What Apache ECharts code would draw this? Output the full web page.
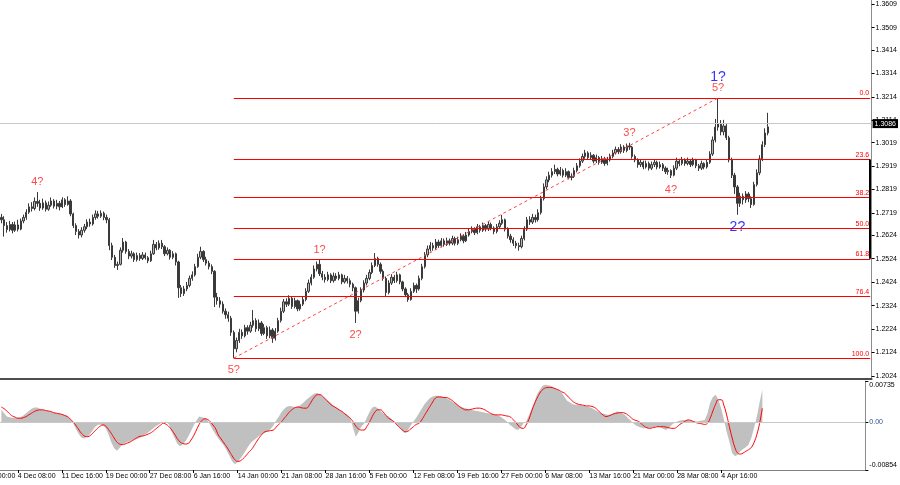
<!DOCTYPE html>
<html>
<head>
<meta charset="utf-8">
<script src="https://cdn.jsdelivr.net/npm/echarts@6/dist/echarts.min.js"></script>
<style>
html,body{margin:0;padding:0;background:#fff;}
#chart{width:900px;height:485px;}
</style>
</head>
<body>
<div id="chart"></div>
<script>
// ---------------- DATA ----------------
// time-axis labels (one every 16 candles; each candle = 8 hours). The first one belongs to a slot scrolled off to the left.
const xTickLabels = ["27 Nov 00:00","4 Dec 08:00","11 Dec 16:00","19 Dec 00:00","27 Dec 08:00","6 Jan 16:00",
  "14 Jan 00:00","21 Jan 08:00","28 Jan 16:00","5 Feb 00:00","12 Feb 08:00","19 Feb 16:00","27 Feb 00:00",
  "6 Mar 08:00","13 Mar 16:00","21 Mar 00:00","28 Mar 08:00","4 Apr 16:00"];

// price-axis tick labels
const priceTicks = [1.2024,1.2124,1.2224,1.2324,1.2424,1.2524,1.2624,1.2719,1.2819,1.2919,1.3019,1.3114,1.3214,1.3314,1.3414,1.3509,1.3609];

// MACD axis tick labels
const macdTickValues = [0.00735, 0, -0.00854];
const macdTickLabels = ["0.00735", "0.00", "-0.00854"];

// Fibonacci retracement levels (percent) and their texts
const fibRatios = [0, 23.6, 38.2, 50.0, 61.8, 76.4, 100.0];
const fibLabels = ["0.0","23.6","38.2","50.0","61.8","76.4","100.0"];
const fibLowCandle = 84;
const fibHighCandle = 259;

const currentPrice = 1.3086;

// candles: [open, high, low, close]
const ohlc = [
[1.2700,1.2715,1.2675,1.2690],[1.2690,1.2705,1.2618,1.2665],[1.2665,1.2680,1.2635,1.2648],[1.2648,1.2685,1.2640,1.2670],[1.2670,1.2680,1.2632,1.2645],
[1.2645,1.2682,1.2638,1.2668],[1.2668,1.2690,1.2640,1.2650],[1.2650,1.2695,1.2645,1.2685],[1.2685,1.2712,1.2675,1.2700],[1.2700,1.2735,1.2690,1.2722],
[1.2722,1.2760,1.2715,1.2745],[1.2745,1.2765,1.2725,1.2738],[1.2738,1.2785,1.2730,1.2768],[1.2768,1.2808,1.2745,1.2760],[1.2760,1.2775,1.2728,1.2740],
[1.2740,1.2780,1.2732,1.2762],[1.2762,1.2772,1.2725,1.2735],[1.2735,1.2768,1.2728,1.2752],[1.2752,1.2785,1.2745,1.2770],[1.2770,1.2778,1.2738,1.2748],
[1.2748,1.2775,1.2735,1.2760],[1.2760,1.2770,1.2730,1.2745],[1.2745,1.2786,1.2740,1.2775],[1.2775,1.2782,1.2745,1.2755],[1.2755,1.2790,1.2750,1.2770],
[1.2770,1.2778,1.2705,1.2715],[1.2715,1.2720,1.2655,1.2665],[1.2665,1.2675,1.2625,1.2640],[1.2640,1.2650,1.2610,1.2625],[1.2625,1.2658,1.2615,1.2645],
[1.2645,1.2672,1.2635,1.2660],[1.2660,1.2692,1.2650,1.2680],[1.2680,1.2695,1.2660,1.2672],[1.2672,1.2712,1.2665,1.2700],[1.2700,1.2730,1.2690,1.2715],
[1.2715,1.2728,1.2695,1.2705],[1.2705,1.2730,1.2698,1.2718],[1.2718,1.2725,1.2688,1.2700],[1.2700,1.2712,1.2675,1.2690],[1.2690,1.2698,1.2560,1.2580],
[1.2580,1.2592,1.2518,1.2530],[1.2530,1.2540,1.2485,1.2495],[1.2495,1.2512,1.2476,1.2500],[1.2500,1.2572,1.2495,1.2560],[1.2560,1.2612,1.2550,1.2595],
[1.2595,1.2600,1.2545,1.2555],[1.2555,1.2565,1.2522,1.2535],[1.2535,1.2558,1.2525,1.2545],[1.2545,1.2552,1.2510,1.2520],[1.2520,1.2550,1.2512,1.2538],
[1.2538,1.2548,1.2515,1.2525],[1.2525,1.2552,1.2518,1.2540],[1.2540,1.2550,1.2520,1.2528],[1.2528,1.2535,1.2505,1.2515],[1.2515,1.2558,1.2510,1.2545],
[1.2545,1.2604,1.2540,1.2585],[1.2585,1.2595,1.2560,1.2570],[1.2570,1.2602,1.2562,1.2590],[1.2590,1.2604,1.2565,1.2575],[1.2575,1.2582,1.2535,1.2545],
[1.2545,1.2572,1.2538,1.2560],[1.2560,1.2565,1.2520,1.2530],[1.2530,1.2556,1.2522,1.2545],[1.2545,1.2550,1.2495,1.2510],[1.2510,1.2515,1.2357,1.2400],
[1.2400,1.2412,1.2360,1.2375],[1.2375,1.2408,1.2365,1.2395],[1.2395,1.2425,1.2385,1.2410],[1.2410,1.2452,1.2402,1.2440],[1.2440,1.2470,1.2430,1.2455],
[1.2455,1.2502,1.2448,1.2490],[1.2490,1.2545,1.2485,1.2530],[1.2530,1.2575,1.2522,1.2555],[1.2555,1.2560,1.2510,1.2520],[1.2520,1.2532,1.2495,1.2505],
[1.2505,1.2515,1.2478,1.2490],[1.2490,1.2500,1.2458,1.2470],[1.2470,1.2475,1.2318,1.2360],[1.2360,1.2378,1.2328,1.2345],[1.2345,1.2360,1.2315,1.2330],
[1.2330,1.2342,1.2290,1.2300],[1.2300,1.2312,1.2268,1.2285],[1.2285,1.2298,1.2255,1.2270],[1.2270,1.2280,1.2195,1.2210],[1.2210,1.2218,1.2100,1.2140],
[1.2140,1.2188,1.2125,1.2175],[1.2175,1.2225,1.2165,1.2210],[1.2210,1.2222,1.2182,1.2195],[1.2195,1.2242,1.2188,1.2230],[1.2230,1.2240,1.2200,1.2215],
[1.2215,1.2255,1.2208,1.2240],[1.2240,1.2305,1.2230,1.2260],[1.2260,1.2270,1.2212,1.2225],[1.2225,1.2265,1.2215,1.2250],[1.2250,1.2258,1.2195,1.2205],
[1.2205,1.2245,1.2198,1.2230],[1.2230,1.2238,1.2182,1.2195],[1.2195,1.2235,1.2185,1.2220],[1.2220,1.2228,1.2165,1.2185],[1.2185,1.2228,1.2175,1.2215],
[1.2215,1.2272,1.2208,1.2260],[1.2260,1.2315,1.2252,1.2300],[1.2300,1.2352,1.2292,1.2340],[1.2340,1.2355,1.2318,1.2330],[1.2330,1.2368,1.2322,1.2355],
[1.2355,1.2362,1.2310,1.2320],[1.2320,1.2358,1.2312,1.2345],[1.2345,1.2350,1.2300,1.2310],[1.2310,1.2345,1.2302,1.2330],[1.2330,1.2365,1.2322,1.2350],
[1.2350,1.2398,1.2342,1.2385],[1.2385,1.2435,1.2378,1.2420],[1.2420,1.2458,1.2410,1.2445],[1.2445,1.2495,1.2438,1.2480],[1.2480,1.2512,1.2470,1.2500],
[1.2500,1.2520,1.2450,1.2460],[1.2460,1.2472,1.2432,1.2445],[1.2445,1.2458,1.2422,1.2435],[1.2435,1.2468,1.2428,1.2455],[1.2455,1.2462,1.2420,1.2430],
[1.2430,1.2465,1.2422,1.2450],[1.2450,1.2462,1.2430,1.2440],[1.2440,1.2468,1.2432,1.2455],[1.2455,1.2460,1.2415,1.2425],[1.2425,1.2455,1.2418,1.2440],
[1.2440,1.2450,1.2418,1.2430],[1.2430,1.2440,1.2402,1.2415],[1.2415,1.2422,1.2385,1.2400],[1.2400,1.2405,1.2250,1.2300],[1.2300,1.2358,1.2290,1.2345],
[1.2345,1.2402,1.2338,1.2390],[1.2390,1.2432,1.2380,1.2420],[1.2420,1.2455,1.2410,1.2440],[1.2440,1.2478,1.2432,1.2465],[1.2465,1.2508,1.2458,1.2495],
[1.2495,1.2548,1.2488,1.2525],[1.2525,1.2532,1.2490,1.2500],[1.2500,1.2508,1.2460,1.2470],[1.2470,1.2478,1.2430,1.2440],[1.2440,1.2448,1.2361,1.2380],
[1.2380,1.2432,1.2372,1.2420],[1.2420,1.2458,1.2412,1.2445],[1.2445,1.2455,1.2420,1.2430],[1.2430,1.2468,1.2422,1.2455],[1.2455,1.2460,1.2415,1.2425],
[1.2425,1.2430,1.2385,1.2395],[1.2395,1.2402,1.2360,1.2370],[1.2370,1.2378,1.2340,1.2350],[1.2350,1.2398,1.2345,1.2385],[1.2385,1.2422,1.2378,1.2410],
[1.2410,1.2418,1.2378,1.2395],[1.2395,1.2452,1.2388,1.2440],[1.2440,1.2502,1.2432,1.2490],[1.2490,1.2552,1.2482,1.2540],[1.2540,1.2580,1.2530,1.2565],
[1.2565,1.2595,1.2555,1.2580],[1.2580,1.2592,1.2558,1.2570],[1.2570,1.2608,1.2562,1.2595],[1.2595,1.2605,1.2570,1.2580],[1.2580,1.2612,1.2572,1.2600],
[1.2600,1.2610,1.2575,1.2585],[1.2585,1.2614,1.2578,1.2600],[1.2600,1.2610,1.2580,1.2590],[1.2590,1.2622,1.2582,1.2610],[1.2610,1.2618,1.2580,1.2590],
[1.2590,1.2618,1.2582,1.2605],[1.2605,1.2632,1.2598,1.2620],[1.2620,1.2628,1.2590,1.2600],[1.2600,1.2638,1.2595,1.2625],[1.2625,1.2652,1.2618,1.2640],
[1.2640,1.2662,1.2632,1.2650],[1.2650,1.2658,1.2625,1.2635],[1.2635,1.2672,1.2628,1.2660],[1.2660,1.2668,1.2635,1.2645],[1.2645,1.2678,1.2638,1.2665],
[1.2665,1.2672,1.2640,1.2650],[1.2650,1.2682,1.2642,1.2670],[1.2670,1.2678,1.2645,1.2655],[1.2655,1.2662,1.2628,1.2640],[1.2640,1.2672,1.2632,1.2660],
[1.2660,1.2688,1.2652,1.2675],[1.2675,1.2711,1.2668,1.2690],[1.2690,1.2695,1.2640,1.2650],[1.2650,1.2658,1.2610,1.2620],[1.2620,1.2630,1.2592,1.2605],
[1.2605,1.2615,1.2578,1.2590],[1.2590,1.2600,1.2568,1.2580],[1.2580,1.2592,1.2558,1.2575],[1.2575,1.2622,1.2568,1.2610],[1.2610,1.2662,1.2602,1.2650],
[1.2650,1.2702,1.2642,1.2690],[1.2690,1.2705,1.2668,1.2680],[1.2680,1.2715,1.2672,1.2700],[1.2700,1.2712,1.2678,1.2690],[1.2690,1.2735,1.2682,1.2720],
[1.2720,1.2792,1.2712,1.2780],[1.2780,1.2845,1.2772,1.2830],[1.2830,1.2875,1.2820,1.2860],[1.2860,1.2895,1.2850,1.2880],[1.2880,1.2910,1.2870,1.2895],
[1.2895,1.2925,1.2885,1.2905],[1.2905,1.2912,1.2875,1.2885],[1.2885,1.2915,1.2878,1.2900],[1.2900,1.2908,1.2870,1.2880],[1.2880,1.2910,1.2872,1.2895],
[1.2895,1.2900,1.2862,1.2870],[1.2870,1.2888,1.2858,1.2875],[1.2875,1.2912,1.2868,1.2900],[1.2900,1.2932,1.2892,1.2920],[1.2920,1.2952,1.2912,1.2940],
[1.2940,1.2972,1.2932,1.2960],[1.2960,1.2988,1.2950,1.2975],[1.2975,1.2982,1.2945,1.2955],[1.2955,1.2978,1.2948,1.2965],[1.2965,1.2970,1.2930,1.2940],
[1.2940,1.2968,1.2932,1.2955],[1.2955,1.2962,1.2925,1.2935],[1.2935,1.2962,1.2928,1.2950],[1.2950,1.2958,1.2920,1.2930],[1.2930,1.2958,1.2922,1.2945],
[1.2945,1.2972,1.2938,1.2960],[1.2960,1.2988,1.2952,1.2975],[1.2975,1.3002,1.2968,1.2990],[1.2990,1.3000,1.2970,1.2980],[1.2980,1.3012,1.2972,1.3000],
[1.3000,1.3008,1.2975,1.2985],[1.2985,1.3015,1.2978,1.3005],[1.3005,1.3018,1.2988,1.3000],[1.3000,1.3005,1.2950,1.2960],[1.2960,1.2968,1.2935,1.2945],
[1.2945,1.2952,1.2912,1.2925],[1.2925,1.2948,1.2915,1.2935],[1.2935,1.2942,1.2905,1.2915],[1.2915,1.2942,1.2908,1.2930],[1.2930,1.2938,1.2900,1.2910],
[1.2910,1.2938,1.2902,1.2925],[1.2925,1.2948,1.2915,1.2935],[1.2935,1.2942,1.2905,1.2915],[1.2915,1.2938,1.2908,1.2925],[1.2925,1.2932,1.2898,1.2910],
[1.2910,1.2918,1.2885,1.2895],[1.2895,1.2912,1.2882,1.2900],[1.2900,1.2905,1.2868,1.2880],[1.2880,1.2922,1.2875,1.2910],[1.2910,1.2955,1.2902,1.2940],
[1.2940,1.2950,1.2918,1.2930],[1.2930,1.2958,1.2922,1.2945],[1.2945,1.2952,1.2920,1.2930],[1.2930,1.2955,1.2922,1.2940],[1.2940,1.2948,1.2915,1.2925],
[1.2925,1.2955,1.2918,1.2945],[1.2945,1.2950,1.2910,1.2920],[1.2920,1.2928,1.2898,1.2910],[1.2910,1.2942,1.2902,1.2930],[1.2930,1.2935,1.2905,1.2915],
[1.2915,1.2948,1.2908,1.2935],[1.2935,1.2982,1.2928,1.2970],[1.2970,1.3045,1.2962,1.3030],[1.3030,1.3120,1.3020,1.3085],[1.3085,1.3209,1.3070,1.3100],
[1.3100,1.3115,1.3050,1.3065],[1.3065,1.3116,1.3050,1.3090],[1.3090,1.3100,1.3030,1.3040],[1.3040,1.3048,1.2935,1.2945],[1.2945,1.2955,1.2868,1.2880],
[1.2880,1.2890,1.2800,1.2830],[1.2830,1.2838,1.2711,1.2760],[1.2760,1.2805,1.2745,1.2790],[1.2790,1.2802,1.2755,1.2775],[1.2775,1.2812,1.2762,1.2800],
[1.2800,1.2808,1.2765,1.2780],[1.2780,1.2790,1.2740,1.2755],[1.2755,1.2852,1.2750,1.2840],[1.2840,1.2905,1.2832,1.2890],[1.2890,1.2965,1.2880,1.2950],
[1.2950,1.3025,1.2940,1.3010],[1.3010,1.3080,1.3000,1.3060],[1.3060,1.3146,1.3050,1.3086]
];

// MACD main (grey histogram)
const macdHist = [
0.0022,0.0016,0.0010,0.0009,0.0008,0.0008,0.0008,0.0009,0.0012,0.0016,
0.0020,0.0024,0.0026,0.0026,0.0024,0.0022,0.0021,0.0020,0.0018,0.0017,
0.0016,0.0015,0.0014,0.0013,0.0011,0.0006,0.0000,-0.0011,-0.0020,-0.0027,
-0.0029,-0.0026,-0.0023,-0.0016,-0.0009,-0.0005,-0.0004,-0.0006,-0.0011,-0.0022,
-0.0036,-0.0046,-0.0051,-0.0046,-0.0040,-0.0037,-0.0035,-0.0034,-0.0032,-0.0030,
-0.0029,-0.0026,-0.0023,-0.0020,-0.0016,-0.0012,-0.0008,-0.0005,-0.0002,0.0000,
0.0001,-0.0004,-0.0017,-0.0028,-0.0038,-0.0043,-0.0040,-0.0034,-0.0026,-0.0016,
-0.0006,0.0003,0.0010,0.0009,0.0007,0.0004,-0.0005,-0.0014,-0.0022,-0.0029,
-0.0036,-0.0042,-0.0050,-0.0060,-0.0070,-0.0075,-0.0071,-0.0065,-0.0058,-0.0050,
-0.0042,-0.0036,-0.0032,-0.0028,-0.0024,-0.0021,-0.0019,-0.0016,-0.0012,-0.0006,
0.0003,0.0010,0.0018,0.0024,0.0028,0.0029,0.0028,0.0027,0.0028,0.0031,
0.0035,0.0040,0.0044,0.0048,0.0051,0.0052,0.0050,0.0046,0.0042,0.0038,
0.0034,0.0029,0.0026,0.0022,0.0019,0.0016,0.0013,0.0008,-0.0010,-0.0026,
-0.0018,-0.0008,-0.0003,0.0008,0.0018,0.0026,0.0028,0.0025,0.0020,0.0016,
0.0012,0.0010,0.0005,0.0002,-0.0004,-0.0010,-0.0016,-0.0020,-0.0014,-0.0006,
0.0001,0.0008,0.0016,0.0024,0.0032,0.0038,0.0043,0.0046,0.0047,0.0047,
0.0046,0.0045,0.0043,0.0040,0.0037,0.0034,0.0031,0.0028,0.0026,0.0025,
0.0023,0.0022,0.0021,0.0020,0.0019,0.0018,0.0017,0.0016,0.0015,0.0014,
0.0013,0.0012,0.0009,0.0005,0.0001,-0.0004,-0.0008,-0.0012,-0.0014,-0.0010,
-0.0002,0.0001,0.0012,0.0024,0.0036,0.0050,0.0058,0.0065,0.0067,0.0066,
0.0065,0.0062,0.0059,0.0056,0.0052,0.0045,0.0038,0.0035,0.0032,0.0031,
0.0031,0.0030,0.0029,0.0028,0.0027,0.0025,0.0022,0.0019,0.0017,0.0015,
0.0014,0.0013,0.0014,0.0016,0.0019,0.0018,0.0016,0.0013,0.0008,0.0003,
-0.0002,-0.0006,-0.0008,-0.0010,-0.0011,-0.0011,-0.0010,-0.0009,-0.0008,-0.0008,
-0.0010,-0.0012,-0.0014,-0.0010,-0.0005,-0.0001,0.0001,0.0003,0.0004,0.0004,
0.0004,0.0002,0.0001,0.0001,0.0002,0.0003,0.0004,0.0015,0.0035,0.0045,
0.0049,0.0040,0.0025,0.0005,-0.0017,-0.0035,-0.0055,-0.0061,-0.0058,-0.0052,
-0.0048,-0.0045,-0.0040,-0.0028,-0.0010,0.0010,0.0035,0.0058
];

// MACD signal (red line)
const macdSignal = [
0.0027,0.0024,0.0020,0.0015,0.0011,0.0009,0.0007,0.0007,0.0008,0.0010,
0.0013,0.0016,0.0019,0.0021,0.0022,0.0022,0.0021,0.0020,0.0019,0.0017,
0.0016,0.0015,0.0014,0.0012,0.0010,0.0006,0.0001,-0.0005,-0.0012,-0.0019,
-0.0024,-0.0026,-0.0025,-0.0021,-0.0016,-0.0011,-0.0007,-0.0005,-0.0007,-0.0013,
-0.0020,-0.0028,-0.0035,-0.0039,-0.0040,-0.0039,-0.0037,-0.0035,-0.0032,-0.0029,
-0.0026,-0.0025,-0.0024,-0.0022,-0.0020,-0.0017,-0.0013,-0.0009,-0.0005,-0.0002,
-0.0004,-0.0008,-0.0014,-0.0021,-0.0029,-0.0035,-0.0038,-0.0039,-0.0038,-0.0032,
-0.0024,-0.0014,-0.0004,0.0003,0.0006,0.0005,0.0001,-0.0005,-0.0012,-0.0023,
-0.0030,-0.0037,-0.0044,-0.0052,-0.0060,-0.0067,-0.0070,-0.0069,-0.0065,-0.0060,
-0.0054,-0.0049,-0.0042,-0.0034,-0.0027,-0.0021,-0.0017,-0.0016,-0.0015,-0.0014,
-0.0009,-0.0004,0.0001,0.0007,0.0013,0.0019,0.0023,0.0026,0.0027,0.0026,
0.0025,0.0025,0.0030,0.0038,0.0045,0.0049,0.0049,0.0046,0.0041,0.0036,
0.0031,0.0028,0.0025,0.0022,0.0019,0.0015,0.0011,0.0007,0.0001,-0.0007,
-0.0012,-0.0014,-0.0014,-0.0008,0.0000,0.0010,0.0018,0.0022,0.0022,0.0018,
0.0012,0.0007,0.0004,0.0000,-0.0005,-0.0010,-0.0014,-0.0017,-0.0016,-0.0012,
-0.0008,-0.0004,-0.0002,0.0004,0.0012,0.0020,0.0028,0.0036,0.0043,0.0045,
0.0045,0.0044,0.0044,0.0042,0.0039,0.0035,0.0031,0.0027,0.0024,0.0022,
0.0022,0.0023,0.0024,0.0025,0.0025,0.0024,0.0022,0.0019,0.0016,0.0014,
0.0013,0.0013,0.0013,0.0012,0.0011,0.0010,0.0006,0.0001,-0.0005,-0.0010,
-0.0011,-0.0005,0.0005,0.0019,0.0032,0.0043,0.0052,0.0058,0.0061,0.0062,
0.0062,0.0061,0.0059,0.0057,0.0054,0.0052,0.0047,0.0042,0.0037,0.0034,
0.0032,0.0031,0.0030,0.0029,0.0029,0.0028,0.0026,0.0022,0.0017,0.0013,
0.0010,0.0011,0.0013,0.0015,0.0016,0.0017,0.0017,0.0016,0.0013,0.0009,
0.0005,0.0003,0.0001,-0.0003,-0.0007,-0.0010,-0.0011,-0.0010,-0.0009,-0.0008,
-0.0008,-0.0008,-0.0009,-0.0010,-0.0011,-0.0011,-0.0008,-0.0004,-0.0001,0.0002,
0.0004,0.0003,0.0001,-0.0001,-0.0002,-0.0003,-0.0004,-0.0002,0.0007,0.0020,
0.0032,0.0040,0.0040,0.0030,0.0013,-0.0008,-0.0028,-0.0045,-0.0055,-0.0057,
-0.0055,-0.0052,-0.0049,-0.0045,-0.0036,-0.0022,-0.0002,0.0025
];

// Elliott wave annotations (attached to a candle's high or low)
const waveLabels = [
  {text:"4?", candle:13,  side:"above", degree:"minor"},
  {text:"5?", candle:84,  side:"below", degree:"minor"},
  {text:"1?", candle:115, side:"above", degree:"minor"},
  {text:"2?", candle:128, side:"below", degree:"minor"},
  {text:"3?", candle:227, side:"above", degree:"minor"},
  {text:"4?", candle:242, side:"below", degree:"minor"},
  {text:"5?", candle:259, side:"above", degree:"minor"},
  {text:"1?", candle:259, side:"above", degree:"major"},
  {text:"2?", candle:266, side:"below", degree:"major"}
];

// ---------------- LAYOUT / STYLE ----------------
const TOTAL = 315;        // category slots on the time axis (data + empty right margin)
const PLOT_RIGHT = 872;   // right edge of the plot (price scale line)
const CAT_W = PLOT_RIGHT / TOTAL;
const FIRST_LABEL_SLOT = -10;   // slot of xTickLabels[0] (scrolled off the left edge)
const LABEL_EVERY = 16;
const FONT = "'Liberation Sans', Arial, sans-serif";
const waveStyle = {
  minor: {color:"#ff1a1a", fontSize:11, gapAbove:10, gapBelow:12},
  major: {color:"#0000ff", fontSize:14, gapAbove:21, gapBelow:12}
};

const cats = Array.from({length: TOTAL}, (_, i) => String(i));
const candleData = ohlc.map((r, j) => [j, r[0], r[3], r[2], r[1]]);
const histData = macdHist.map((v, j) => [j, v]);
const sigData = macdSignal.map((v, j) => [j, v]);

const fibLow = ohlc[fibLowCandle][2];
const fibHigh = ohlc[fibHighCandle][1];
const fibValues = fibRatios.map(r => fibHigh - (fibHigh - fibLow) * r / 100);

const labelIndexOf = (i) => {
  const d = i - FIRST_LABEL_SLOT;
  return d % LABEL_EVERY === 0 ? d / LABEL_EVERY : -1;
};
const showTick = (i) => { const k = labelIndexOf(i); return k >= 0 && k < xTickLabels.length; };

const markLines = [];
markLines.push({
  yAxis: currentPrice,
  lineStyle: {color:"#c8c8c8", width:1, type:"solid"},
  label: {show:true, position:"end", distance:1, formatter: currentPrice.toFixed(4),
          backgroundColor:"#000", color:"#fff", fontSize:7, fontFamily:FONT, padding:[1,2,1,2]}
});
fibValues.forEach((v, i) => {
  markLines.push([
    {coord:[fibLowCandle, v],
     lineStyle:{color:"#ff0000", width:1, type:"solid"},
     label:{show:true, position:"insideEndTop", distance:[1,1], formatter: fibLabels[i],
            color:"#ff0000", fontSize:7, fontFamily:FONT}},
    {coord:[TOTAL - 1, v]}
  ]);
});
markLines.push([
  {coord:[fibLowCandle, fibLow], lineStyle:{color:"#ff4040", width:1, type:[3,3]}, label:{show:false}},
  {coord:[fibHighCandle, fibHigh]}
]);
markLines.push([
  {coord:[TOTAL - 1, fibValues[1]], lineStyle:{color:"#000", width:2, type:"solid"}, label:{show:false}},
  {coord:[TOTAL - 1, fibValues[4]]}
]);

const waveData = waveLabels.map(w => {
  const r = ohlc[w.candle];
  const st = waveStyle[w.degree];
  const above = w.side === "above";
  return {
    value: [w.candle, above ? r[1] : r[2]],
    label: {show:true, formatter: w.text, color: st.color, fontSize: st.fontSize, fontFamily: FONT,
            position:"inside", offset:[0, above ? -st.gapAbove : st.gapBelow]}
  };
});

const chart = echarts.init(document.getElementById("chart"), null, {renderer:"canvas", width:900, height:485});
chart.setOption({
  animation: false,
  backgroundColor: "#ffffff",
  textStyle: {fontFamily: FONT},
  grid: [
    {left: 0, top: 0, width: PLOT_RIGHT, height: 379},
    {left: 0, top: 381, width: PLOT_RIGHT, height: 89}
  ],
  // time label of the slot that has scrolled off the left edge (only its tail is visible)
  graphic: [{
    type: "text", silent: true,
    x: (FIRST_LABEL_SLOT + 0.5) * CAT_W, y: 473,
    style: {text: xTickLabels[0], fill: "#000", fontSize: 7, fontFamily: FONT, align: "left", verticalAlign: "top"}
  }],
  xAxis: [
    {type:"category", gridIndex:0, data: cats, boundaryGap:true,
     axisLine:{show:true, onZero:false, lineStyle:{color:"#4d4d4d", width:2}},
     axisTick:{show:false}, axisLabel:{show:false}, splitLine:{show:false}},
    {type:"category", gridIndex:1, data: cats, boundaryGap:true,
     axisLine:{show:true, onZero:false, lineStyle:{color:"#808080", width:1}},
     axisTick:{show:true, alignWithLabel:true, length:3, interval:(i) => showTick(i), lineStyle:{color:"#000"}},
     axisLabel:{show:true, interval:(i) => showTick(i), align:"left", margin:3, fontSize:7, color:"#000",
                formatter:(v, i) => showTick(i) ? xTickLabels[labelIndexOf(i)] : ""},
     splitLine:{show:false}}
  ],
  yAxis: [
    {type:"value", gridIndex:0, position:"right", min:1.2011, max:1.3627,
     axisLine:{show:true, lineStyle:{color:"#8c8c8c", width:1}},
     axisTick:{show:true, customValues: priceTicks, length:3, lineStyle:{color:"#000"}},
     axisLabel:{show:true, customValues: priceTicks, formatter:(v) => v.toFixed(4), fontSize:7, color:"#000", margin:4},
     splitLine:{show:false}},
    {type:"value", gridIndex:1, position:"right", min:-0.00854, max:0.00735,
     axisLine:{show:true, lineStyle:{color:"#8c8c8c", width:1}},
     axisTick:{show:true, customValues: macdTickValues, length:3, lineStyle:{color:"#000"}},
     axisLabel:{show:true, customValues: macdTickValues, fontSize:7, color:"#000", margin:4,
       formatter:(v) => {
         const i = macdTickValues.findIndex(t => Math.abs(t - v) < 1e-9);
         const txt = i >= 0 ? macdTickLabels[i] : "";
         if (i === 0) return "{top|" + txt + "}";
         if (i === 2) return "{bot|" + txt + "}";
         return "{zero|" + txt + "}";
       },
       rich:{
         top:{fontSize:7, color:"#000", padding:[9,0,0,0]},
         bot:{fontSize:7, color:"#000", padding:[0,0,9,0]},
         zero:{fontSize:7, color:"#2f4f8f"}
       }},
     splitLine:{show:false}}
  ],
  series: [
    {type:"candlestick", name:"GBPUSD", xAxisIndex:0, yAxisIndex:0,
     data: candleData, encode:{x:0, y:[1,2,3,4]},
     barWidth: 1.8,
     itemStyle:{color:"#b4b4b4", color0:"#3a3a3a", borderColor:"#3a3a3a", borderColor0:"#3a3a3a", borderWidth:1},
     markLine:{silent:true, symbol:["none","none"], animation:false, data: markLines}},
    {type:"scatter", name:"waves", xAxisIndex:0, yAxisIndex:0, symbolSize:1,
     itemStyle:{color:"rgba(0,0,0,0)"}, data: waveData, z:5},
    {type:"line", name:"MACD", xAxisIndex:1, yAxisIndex:1, data: histData,
     showSymbol:false, smooth:false, lineStyle:{width:0, color:"#c0c0c0"},
     itemStyle:{color:"#c0c0c0"}, areaStyle:{color:"#c0c0c0", opacity:1, origin:0}, z:2,
     markLine:{silent:true, symbol:["none","none"], animation:false,
               data:[{yAxis:0, lineStyle:{color:"#c8c8c8", width:1, type:"solid"}, label:{show:false}}]}},
    {type:"line", name:"Signal", xAxisIndex:1, yAxisIndex:1, data: sigData,
     showSymbol:false, smooth:true, lineStyle:{color:"#ff0000", width:1}, z:4}
  ]
});
</script>
</body>
</html>
